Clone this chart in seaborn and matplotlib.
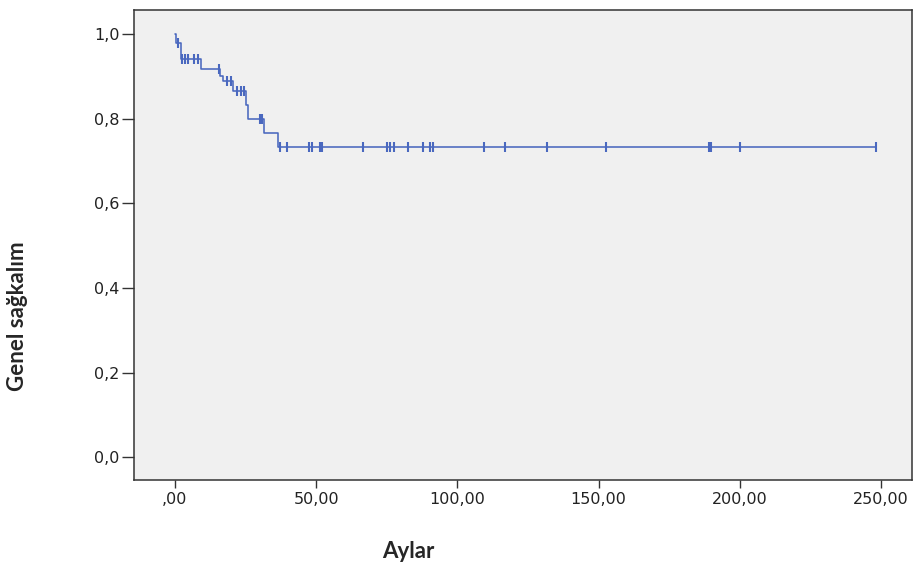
#!/usr/bin/env python3
"""Kaplan-Meier genel sağkalım eğrisi (SPSS görünümü)."""

import numpy as np
import pandas as pd
import matplotlib
matplotlib.use("Agg")
import matplotlib.pyplot as plt
import seaborn as sns

# Olay zamanları (ay) ve basamak sonrası sağkalım oranı
event_times = [0, 0.3, 2.0, 9.3, 15.9, 17.0, 20.6, 25.0, 25.8, 31.6, 36.4]
survival = [1.0, 0.98, 0.941, 0.917, 0.900, 0.889, 0.865, 0.832, 0.800, 0.766, 0.733]

# Sansürlenmiş gözlemler (ay)
censor_times = [1.0, 2.5, 3.5, 4.6, 6.7, 8.2, 15.5, 18.5, 20.0, 22.0, 23.5, 24.5,
                30.0, 31.0, 37.2, 39.7, 47.5, 48.5, 51.5, 52.2, 66.7, 75.2, 76.0,
                77.7, 82.6, 87.9, 90.4, 91.5, 109.6, 116.7, 131.9, 152.8, 189.0,
                190.0, 200.0, 248.2]

x_ticks = [0, 50, 100, 150, 200, 250]
x_tick_labels = [",00", "50,00", "100,00", "150,00", "200,00", "250,00"]
y_ticks = [0.0, 0.2, 0.4, 0.6, 0.8, 1.0]
y_tick_labels = ["0,0", "0,2", "0,4", "0,6", "0,8", "1,0"]

line_color = "#4a68bf"

# Basamak çizgisi son sansüre kadar uzatılır
steps = pd.DataFrame({"Aylar": event_times + [max(censor_times)],
                      "Sagkalim": survival + [survival[-1]]})
idx = np.searchsorted(event_times, censor_times, side="right") - 1
censored = pd.DataFrame({"Aylar": censor_times,
                         "Sagkalim": np.array(survival)[idx]})

sns.set_theme(style="white")
plt.rcParams["font.family"] = ["DejaVu Sans"]

fig = plt.figure(figsize=(9.22, 5.67), dpi=100)
ax = fig.add_axes([134 / 922, 1 - 480 / 567, (912 - 134) / 922, (480 - 10) / 567])
ax.set_facecolor("#f0f0f0")

sns.lineplot(data=steps, x="Aylar", y="Sagkalim", drawstyle="steps-post",
             color=line_color, linewidth=1.15, ax=ax)
sns.scatterplot(data=censored, x="Aylar", y="Sagkalim", marker="|", s=50,
                color=line_color, linewidth=1.5, ax=ax, zorder=3)

ax.set_xlim(-14.5, 261)
ax.set_ylim(-0.054, 1.057)
ax.set_xticks(x_ticks)
ax.set_xticklabels(x_tick_labels)
ax.set_yticks(y_ticks)
ax.set_yticklabels(y_tick_labels)
ax.set_xlabel("")
ax.set_ylabel("")

for side in ["top", "right", "left", "bottom"]:
    ax.spines[side].set_visible(True)
    ax.spines[side].set_color("#333333")
    ax.spines[side].set_linewidth(1.1)

ax.tick_params(axis="y", direction="out", length=8.5, width=1.0, color="#333333",
               labelsize=11.5, labelcolor="#222222", pad=2, left=True)
ax.tick_params(axis="x", direction="out", length=5.5, width=1.0, color="#333333",
               labelsize=11.5, labelcolor="#222222", pad=3, bottom=True)

fig.text(18 / 922, 1 - 316 / 567, "Genel sağkalım", rotation=90, ha="center",
         va="center", fontsize=16, fontweight="bold", family=["Lato", "DejaVu Sans"])
fig.text(408 / 922, 1 - 551 / 567, "Aylar", ha="center", va="center",
         fontsize=16, fontweight="bold", family=["Lato", "DejaVu Sans"])

fig.savefig("out.png", dpi=100, facecolor="white")
